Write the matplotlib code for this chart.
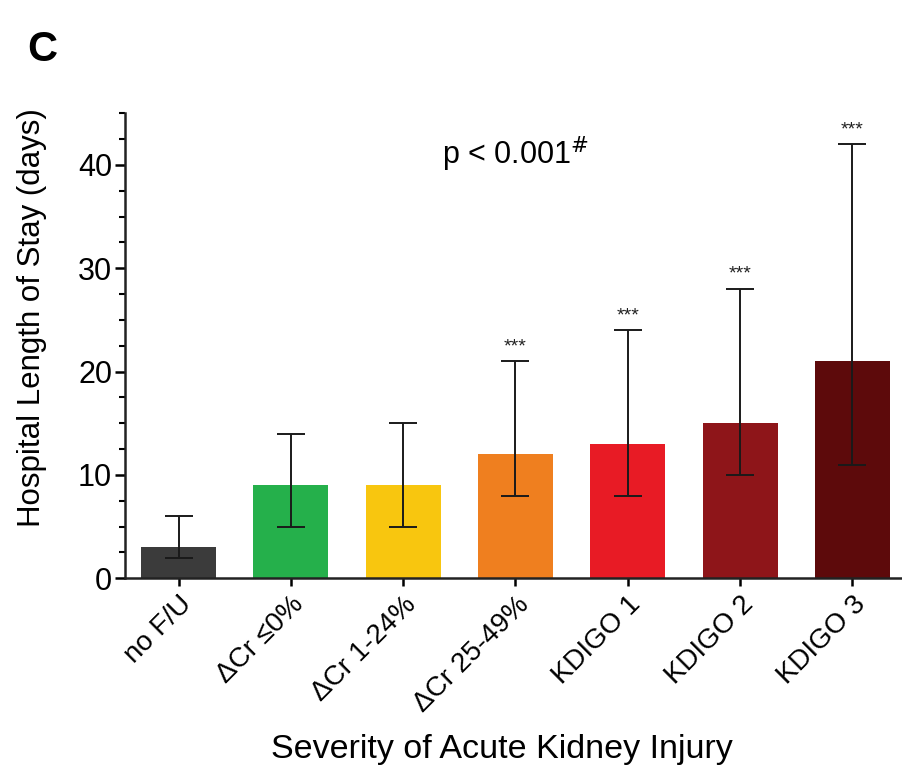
import numpy as np
import matplotlib
matplotlib.use("Agg")
import matplotlib.pyplot as plt
from matplotlib.ticker import MultipleLocator

plt.rcParams["font.family"] = ["Liberation Sans", "DejaVu Sans"]

categories = ["no F/U", "ΔCr ≤0%", "ΔCr 1-24%", "ΔCr 25-49%", "KDIGO 1", "KDIGO 2", "KDIGO 3"]
median = [3, 9, 9, 12, 13, 15, 21]
q1 = [2, 5, 5, 8, 8, 10, 11]
q3 = [6, 14, 15, 21, 24, 28, 42]
signif = ["", "", "", "***", "***", "***", "***"]
colors = ["#3b3b3b", "#25b04b", "#f8c60f", "#ef7f1f", "#e81b25", "#8e1519", "#5d0a0b"]

fig = plt.figure(figsize=(9.03, 7.7), dpi=100)
ax = fig.add_axes([0.138, 0.249, 0.862, 0.604])

x = np.arange(len(categories))
med = np.array(median)
yerr = [med - np.array(q1), np.array(q3) - med]
ax.bar(x, med, width=0.67, color=colors, zorder=1)
ax.errorbar(x, med, yerr=yerr, fmt="none", ecolor="#1a1a1a", elinewidth=1.4,
            capsize=10, capthick=1.4, zorder=2)
for xi, top, s in zip(x, q3, signif):
    if s:
        ax.text(xi, top + 0.6, s, ha="center", va="bottom", fontsize=14, color="#222222")

ax.text(3.0, 41, "p < 0.001$^{\\#}$", ha="center", va="center", fontsize=22)

ax.set_xlim(-0.48, 6.45)
ax.set_ylim(0, 45)
ax.yaxis.set_major_locator(MultipleLocator(10))
ax.yaxis.set_minor_locator(MultipleLocator(2.5))
ax.set_xticks(x)
ax.set_xticklabels(categories, rotation=45, ha="right", rotation_mode="anchor", fontsize=20)
ax.tick_params(axis="y", labelsize=22, width=1.8, length=7, pad=2)
ax.tick_params(axis="y", which="minor", width=1.5, length=4)
ax.tick_params(axis="x", width=1.8, length=6)
for sp in ["top", "right"]:
    ax.spines[sp].set_visible(False)
for sp in ["left", "bottom"]:
    ax.spines[sp].set_linewidth(1.8)
    ax.spines[sp].set_color("#222222")

ax.set_ylabel("Hospital Length of Stay (days)", fontsize=22.5)
ax.yaxis.set_label_coords(-0.10, 0.56)
ax.set_xlabel("Severity of Acute Kidney Injury", fontsize=24.5)
ax.xaxis.set_label_coords(0.485, -0.335)

fig.text(0.03, 0.935, "C", fontsize=30, fontweight="bold", va="center")

fig.savefig("out.png", dpi=100)
